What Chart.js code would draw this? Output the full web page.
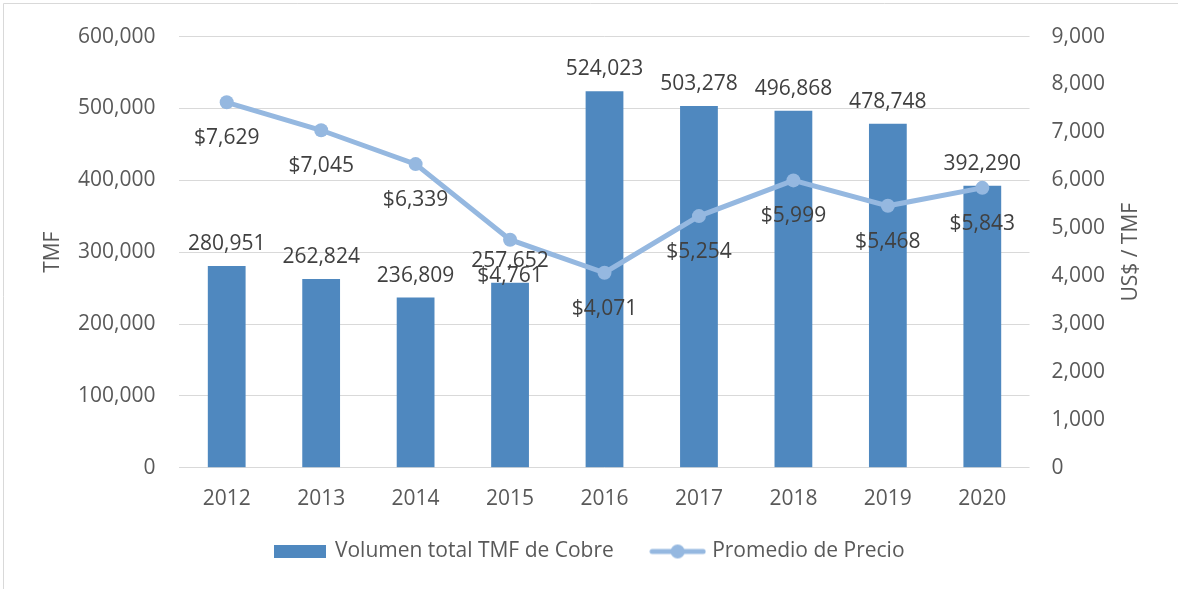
<!DOCTYPE html>
<html lang="es">
<head>
    <meta charset="UTF-8">
    <title>Volumen y precio de cobre</title>
    <script src="https://cdn.jsdelivr.net/npm/chart.js"></script>
    <style>
        body { margin: 0; background: #fff; }
        #wrap { width: 1178px; height: 589px; }
    </style>
</head>
<body>
    <div id="wrap"><canvas id="myChart" width="1178" height="589"></canvas></div>
    <script>
        // data
        const years = ['2012', '2013', '2014', '2015', '2016', '2017', '2018', '2019', '2020'];
        const volumen = [280951, 262824, 236809, 257652, 524023, 503278, 496868, 478748, 392290];
        const precio = [7629, 7045, 6339, 4761, 4071, 5254, 5999, 5468, 5843];

        const barColor = '#4f88bf';
        const lineColor = '#95b8e0';
        const textColor = '#595959';
        const fontFamily = '"Open Sans", sans-serif';

        function fmt(v) { return v.toLocaleString('en-US'); }

        // legend swatches
        function barSwatch() {
            const c = document.createElement('canvas');
            c.width = 52; c.height = 13;
            const g = c.getContext('2d');
            g.fillStyle = barColor;
            g.fillRect(0, 0, 52, 13);
            return c;
        }
        function lineSwatch() {
            const c = document.createElement('canvas');
            c.width = 57; c.height = 16;
            const g = c.getContext('2d');
            g.strokeStyle = lineColor;
            g.lineWidth = 5;
            g.lineCap = 'round';
            g.beginPath(); g.moveTo(3, 8); g.lineTo(54, 8); g.stroke();
            g.fillStyle = lineColor;
            g.beginPath(); g.arc(28.5, 8, 7, 0, Math.PI * 2); g.fill();
            return c;
        }

        // labels for bars and points
        const valueLabels = {
            id: 'valueLabels',
            afterDatasetsDraw(chart) {
                const ctx = chart.ctx;
                ctx.save();
                ctx.font = '21px ' + fontFamily;
                ctx.fillStyle = '#404040';
                ctx.textAlign = 'center';
                chart.getDatasetMeta(1).data.forEach((el, i) => {
                    ctx.textBaseline = 'alphabetic';
                    ctx.fillText(fmt(volumen[i]), el.x, el.y - 16);
                });
                chart.getDatasetMeta(0).data.forEach((el, i) => {
                    ctx.textBaseline = 'middle';
                    ctx.fillText('$' + fmt(precio[i]), el.x, el.y + 36);
                });
                ctx.restore();
            }
        };

        // frame + rotated axis titles (both read bottom to top)
        const extras = {
            id: 'extras',
            beforeDraw(chart) {
                const ctx = chart.ctx;
                ctx.save();
                ctx.strokeStyle = '#d9d9d9';
                ctx.lineWidth = 1;
                ctx.beginPath();
                ctx.moveTo(3.5, chart.height);
                ctx.lineTo(3.5, 3.5);
                ctx.lineTo(chart.width, 3.5);
                ctx.stroke();
                ctx.restore();
            },
            afterDraw(chart) {
                const ctx = chart.ctx;
                const a = chart.chartArea;
                const midY = (a.top + a.bottom) / 2;
                ctx.save();
                ctx.font = '21px ' + fontFamily;
                ctx.fillStyle = textColor;
                ctx.textAlign = 'center';
                ctx.textBaseline = 'middle';
                [['TMF', 53], ['US$ / TMF', 1131]].forEach(([t, x]) => {
                    ctx.save();
                    ctx.translate(x, midY);
                    ctx.rotate(-Math.PI / 2);
                    ctx.fillText(t, 0, 0);
                    ctx.restore();
                });
                ctx.restore();
            }
        };

        const ctx = document.getElementById('myChart').getContext('2d');
        new Chart(ctx, {
            data: {
                labels: years,
                datasets: [{
                    type: 'line',
                    label: 'Promedio de Precio',
                    data: precio,
                    yAxisID: 'y1',
                    borderColor: lineColor,
                    backgroundColor: lineColor,
                    borderWidth: 5,
                    pointRadius: 7,
                    pointHoverRadius: 7,
                    pointBackgroundColor: lineColor,
                    pointBorderWidth: 0,
                    tension: 0,
                    order: 0
                }, {
                    type: 'bar',
                    label: 'Volumen total TMF de Cobre',
                    data: volumen,
                    yAxisID: 'y',
                    backgroundColor: barColor,
                    categoryPercentage: 1,
                    barPercentage: 0.4,
                    order: 1
                }]
            },
            options: {
                responsive: false,
                animation: false,
                layout: { autoPadding: false, padding: { left: 54, right: 51, top: 27, bottom: 17 } },
                plugins: {
                    tooltip: { enabled: false },
                    legend: {
                        position: 'bottom',
                        reverse: true,
                        labels: {
                            color: textColor,
                            font: { size: 21, family: fontFamily },
                            usePointStyle: true,
                            pointStyleWidth: 48,
                            boxHeight: 16,
                            padding: 18,
                            generateLabels(chart) {
                                return chart.data.datasets.map((ds, i) => ({
                                    text: ds.type === 'bar' ? ds.label + '    ' : ds.label,
                                    datasetIndex: i,
                                    pointStyle: ds.type === 'bar' ? barSwatch() : lineSwatch(),
                                    fontColor: textColor,
                                    lineWidth: 0,
                                    hidden: false
                                }));
                            }
                        }
                    }
                },
                scales: {
                    x: {
                        grid: { display: false },
                        border: { display: false },
                        ticks: { color: textColor, font: { size: 21, family: fontFamily }, padding: 11 }
                    },
                    y: {
                        position: 'left',
                        min: 0,
                        max: 600000,
                        ticks: {
                            stepSize: 100000,
                            color: textColor,
                            font: { size: 21, family: fontFamily },
                            padding: 24,
                            callback: v => fmt(v)
                        },
                        grid: { color: '#d9d9d9', drawTicks: false },
                        border: { display: false }
                    },
                    y1: {
                        position: 'right',
                        min: 0,
                        max: 9000,
                        ticks: {
                            stepSize: 1000,
                            color: textColor,
                            font: { size: 21, family: fontFamily },
                            padding: 22,
                            callback: v => fmt(v)
                        },
                        grid: { drawOnChartArea: false, drawTicks: false },
                        border: { display: false }
                    }
                }
            },
            plugins: [extras, valueLabels]
        });
    </script>
</body>
</html>
